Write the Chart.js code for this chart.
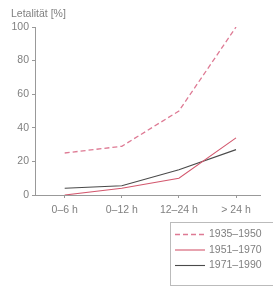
<!DOCTYPE html>
<html><head><meta charset="utf-8">
<script src="https://cdn.jsdelivr.net/npm/chart.js@4"></script>
<style>html,body{margin:0;padding:0;background:#fff}#w{width:273px;height:287px;position:relative}</style>
</head><body><div id="w"><canvas id="c"></canvas></div>
<script>
const categories = ["0–6 h", "0–12 h", "12–24 h", "> 24 h"];
const s1935 = [25, 29, 50, 100];
const s1951 = [0, 4, 10, 34];
const s1971 = [4, 5.5, 15, 27];
const seriesLabels = ["1935–1950", "1951–1970", "1971–1990"];
const yTicks = [0, 20, 40, 60, 80, 100];
const yTitle = "Letalität [%]";

const FONT = "'Liberation Sans', Arial, sans-serif";
const TXT = '#808080';
const toPts = arr => arr.map((v, i) => ({ x: i, y: v }));

const extras = {
  id: 'extras',
  afterDraw(chart) {
    const ctx = chart.ctx;
    ctx.save();
    ctx.fillStyle = TXT;
    ctx.font = "10.5px " + FONT;
    ctx.textBaseline = 'middle';
    ctx.textAlign = 'left';
    ctx.fillText(yTitle, 11, 14);
    // legend box
    const bx = 170.5, by = 222.5, bw = 106, bh = 63;
    ctx.strokeStyle = '#bbb';
    ctx.lineWidth = 1;
    ctx.strokeRect(bx, by, bw, bh);
    chart.data.datasets.forEach((ds, i) => {
      const y = 234.5 + i * 15.5;
      ctx.beginPath();
      ctx.setLineDash(ds.borderDash || []);
      ctx.strokeStyle = ds.borderColor;
      ctx.lineWidth = ds.borderWidth;
      ctx.moveTo(175, y); ctx.lineTo(205, y);
      ctx.stroke();
      ctx.setLineDash([]);
      ctx.fillStyle = TXT;
      ctx.fillText(ds.label, 209, y);
    });
    ctx.restore();
  }
};

new Chart(document.getElementById('c'), {
  type: 'line',
  data: {
    datasets: [
      { label: seriesLabels[0], data: toPts(s1935), borderColor: '#de7a94', borderWidth: 1.3, borderDash: [5, 3], pointRadius: 0, fill: false, tension: 0 },
      { label: seriesLabels[1], data: toPts(s1951), borderColor: '#d3586e', borderWidth: 1.1, pointRadius: 0, fill: false, tension: 0 },
      { label: seriesLabels[2], data: toPts(s1971), borderColor: '#4a4a4a', borderWidth: 1.1, pointRadius: 0, fill: false, tension: 0 }
    ]
  },
  options: {
    responsive: true, maintainAspectRatio: false, animation: false,
    layout: { padding: { top: 27, right: 13, bottom: 72, left: 0 } },
    plugins: { legend: { display: false }, tooltip: { enabled: false } },
    scales: {
      x: {
        type: 'linear', min: -0.52, max: 3.42,
        afterBuildTicks(s) { s.ticks = categories.map((c, i) => ({ value: i })); },
        grid: { drawOnChartArea: false, tickLength: 3, color: '#999' },
        border: { color: '#999', width: 1 },
        ticks: { color: TXT, font: { size: 10.5, family: FONT }, padding: 6, maxRotation: 0, autoSkip: false,
                 callback: v => categories[v] },
        afterFit(s) { s.height = 20; }
      },
      y: {
        min: 0, max: 100,
        afterBuildTicks(s) { s.ticks = yTicks.map(v => ({ value: v })); },
        grid: { drawOnChartArea: false, tickLength: 3, color: '#999' },
        border: { color: '#999', width: 1 },
        ticks: { color: TXT, font: { size: 10.5, family: FONT }, padding: 3 },
        afterFit(s) { s.width = 35; }
      }
    }
  },
  plugins: [extras]
});
</script></body></html>
